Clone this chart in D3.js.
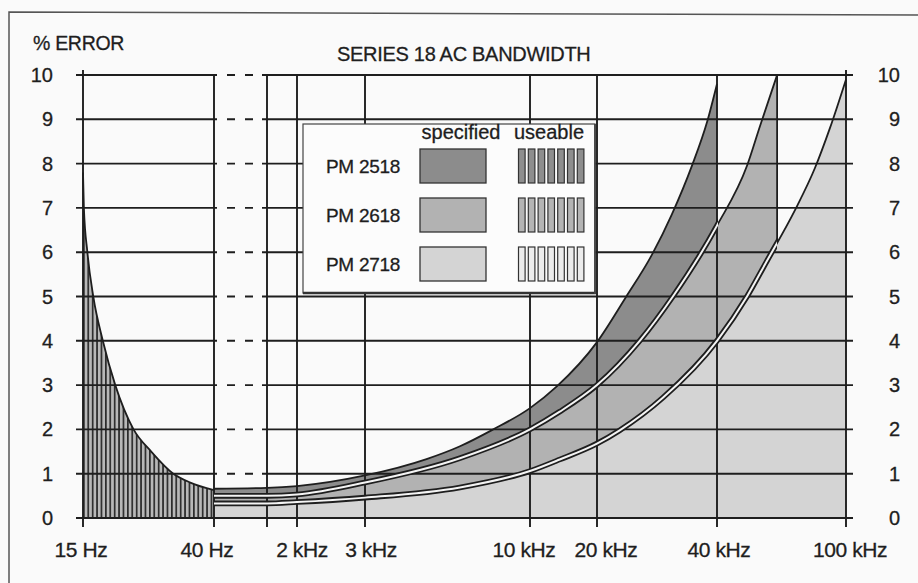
<!DOCTYPE html>
<html><head><meta charset="utf-8">
<script src="https://cdn.jsdelivr.net/npm/d3@7"></script>
<style>
body{margin:0;background:#fafafa;}
svg{display:block;font-family:"Liberation Sans",Arial,Helvetica,sans-serif;}
</style>
</head><body>
<svg id="c" width="918" height="583"></svg>
<script>
// ---------- data ----------
const errorTicks = [0,1,2,3,4,5,6,7,8,9,10];
const freqTicks = [15,40,1000,2000,3000,10000,20000,40000,100000];
const freqTickLabels = ["15 Hz","40 Hz","","2 kHz","3 kHz","10 kHz","20 kHz","40 kHz","100 kHz"];

const lowFreqHz  = [15,15.1,15.5,16.2,17.4,19.1,21.9,25.0,29.5,33.5,40];
const lowFreqErr = [7.8,7.0,6.0,5.0,4.0,3.0,2.0,1.5,1.0,0.8,0.63];

const pm2518Hz  = [40,1000,2000,3000,4700,6000,7600,10000,13200,20000,23500,27500,30800,34600,37800,40000];
const pm2518Err = [0.66,0.68,0.72,0.96,1.33,1.62,1.99,2.48,2.97,3.97,4.95,5.95,6.85,7.95,8.95,9.8];

const pm2618Hz  = [40,1000,2000,3000,6000,10000,13600,20000,25600,31000,40000,49500,54300,61300];
const pm2618Err = [0.5,0.5,0.53,0.8,1.35,2.0,2.4,3.0,4.0,5.0,6.6,7.95,8.85,10];

const pm2718Hz  = [40,1000,2000,3000,6000,10000,13600,20000,22800,29300,40000,49500,57000,69600,80200,89200,100000];
const pm2718Err = [0.33,0.33,0.36,0.46,0.69,1.06,1.32,1.68,1.98,2.72,4.0,5.0,5.8,6.95,7.9,8.8,9.9];

const models = ["PM 2518","PM 2618","PM 2718"];
const legendHeaders = ["specified","useable"];
const chartTitle = "SERIES 18 AC BANDWIDTH";
const yAxisTitle = "% ERROR";

// ---------- layout ----------
const xPos = [83,214,267,297,365,530,597,717,846];
const labelDx = [-2,-7,0,5,6,-6,9,2,4];
const modelFill = ["#8c8c8c","#b2b2b2","#d4d4d4"];
const useableFill = ["#8e8e8e","#b4b4b4","#ececec"];
const ink = "#1e1e1e";

const svg = d3.select("#c");
const xLin = d3.scaleLinear().domain(freqTicks.map(Math.log10)).range(xPos);
const x = f => xLin(Math.log10(f));
const y = d3.scaleLinear().domain([0,10]).range([518,75]);
const zip = (a,b) => a.map((v,i)=>[v,b[i]]);

const lowData = zip(lowFreqHz, lowFreqErr);
const seriesData = [zip(pm2518Hz,pm2518Err), zip(pm2618Hz,pm2618Err), zip(pm2718Hz,pm2718Err)];

const line = d3.line().x(d=>x(d[0])).y(d=>y(d[1])).curve(d3.curveMonotoneX);
const area = d3.area().x(d=>x(d[0])).y0(y(0)).y1(d=>y(d[1])).curve(d3.curveMonotoneX);

const defs = svg.append("defs");
const pat = defs.append("pattern").attr("id","stripes").attr("patternUnits","userSpaceOnUse")
  .attr("x", x(15)).attr("y",0).attr("width",4.4).attr("height",10);
pat.append("rect").attr("width",4.4).attr("height",10).attr("fill","#b8b8b8");
pat.append("rect").attr("width",1.7).attr("height",10).attr("fill","#2c2c2c");

// frame
svg.append("path").attr("d",`M9,583 L9,12 L918,15`).attr("fill","none").attr("stroke","#555").attr("stroke-width",1.5);

// ---------- fills ----------
svg.append("path").attr("d", area(lowData)).attr("fill","url(#stripes)");
const endB = seriesData[1][seriesData[1].length-1];
svg.append("path").attr("d", area(seriesData[0])).attr("fill", modelFill[0]);
svg.append("path").attr("d", area(seriesData[1])).attr("fill", modelFill[1]);
svg.append("line").attr("x1",x(endB[0])).attr("x2",x(endB[0])).attr("y1",y(endB[1])).attr("y2",y(0))
  .attr("stroke",ink).attr("stroke-width",1.8);
svg.append("path").attr("d", area(seriesData[2])).attr("fill", modelFill[2]);

// ---------- grid ----------
const g = svg.append("g").attr("stroke",ink).attr("stroke-width",1.9);
const gapL = x(40)+13, gapR = x(1000)-14;
errorTicks.forEach(v=>{
  if (v===0) {
    g.append("line").attr("x1",76).attr("x2",853).attr("y1",y(v)).attr("y2",y(v));
  } else {
    g.append("line").attr("x1",76).attr("x2",x(40)+3).attr("y1",y(v)).attr("y2",y(v));
    g.append("line").attr("x1",gapL).attr("x2",gapR).attr("y1",y(v)).attr("y2",y(v))
      .attr("stroke-dasharray","8,10");
    g.append("line").attr("x1",x(1000)-5).attr("x2",853).attr("y1",y(v)).attr("y2",y(v));
  }
});
freqTicks.forEach((f,i)=>{
  const top = (i===0 || i===freqTicks.length-1) ? y(10)-5 : y(10);
  g.append("line").attr("x1",x(f)).attr("x2",x(f)).attr("y1",top).attr("y2",y(0)+9);
});

// ---------- curves ----------
svg.append("path").attr("d", line(lowData)).attr("fill","none").attr("stroke",ink).attr("stroke-width",1.8);
svg.append("path").attr("d", line(seriesData[0])).attr("fill","none").attr("stroke",ink).attr("stroke-width",1.8);

function clipTo(id, xr){
  defs.append("clipPath").attr("id",id).append("rect")
    .attr("x",0).attr("y",0).attr("width",xr).attr("height",583);
}
clipTo("clipB", x(40000)+1);
clipTo("clipC", x(endB[0]));

[[1,"clipB"],[2,"clipC"]].forEach(([k,clip])=>{
  const d = line(seriesData[k]);
  svg.append("path").attr("d",d).attr("fill","none").attr("stroke",ink).attr("stroke-width",1.8);
  svg.append("path").attr("d",d).attr("fill","none").attr("stroke",ink).attr("stroke-width",5.6)
    .attr("clip-path",`url(#${clip})`);
  svg.append("path").attr("d",d).attr("fill","none").attr("stroke","#f4f4f4").attr("stroke-width",2.0)
    .attr("clip-path",`url(#${clip})`);
});

// ---------- legend ----------
const lg = svg.append("g");
lg.append("rect").attr("x",303).attr("y",124).attr("width",292).attr("height",169)
  .attr("fill","#fcfcfc").attr("stroke","#444").attr("stroke-width",1.2);
lg.append("line").attr("x1",303).attr("x2",596).attr("y1",293).attr("y2",293).attr("stroke","#333").attr("stroke-width",2.6);
lg.append("line").attr("x1",595).attr("x2",595).attr("y1",124).attr("y2",294).attr("stroke","#444").attr("stroke-width",1.8);
const LT = lg.append("g").attr("fill",ink).attr("stroke",ink).attr("stroke-width",0.3);
LT.append("text").attr("x",461).attr("y",139).attr("text-anchor","middle").attr("font-size",20)
  .text(legendHeaders[0]);
LT.append("text").attr("x",549).attr("y",139).attr("text-anchor","middle").attr("font-size",20)
  .text(legendHeaders[1]);
models.forEach((m,i)=>{
  const cy = 166 + i*49;
  LT.append("text").attr("x",326).attr("y",cy+7).attr("font-size",19).attr("letter-spacing",-0.3)
    .text(m);
  lg.append("rect").attr("x",420).attr("y",cy-17).attr("width",66).attr("height",34)
    .attr("fill",modelFill[i]).attr("stroke","#333").attr("stroke-width",1.3);
  for (let k=0;k<7;k++){
    lg.append("rect").attr("x",518.5+k*9.8).attr("y",cy-17).attr("width",6.6).attr("height",34)
      .attr("fill",useableFill[i]).attr("stroke","#333").attr("stroke-width",1.2);
  }
});

// ---------- text ----------
const T = svg.append("g").attr("fill",ink).attr("stroke",ink).attr("stroke-width",0.3);
T.append("text").attr("x",33).attr("y",50).attr("font-size",19.5).attr("letter-spacing",-0.3).text(yAxisTitle);
T.append("text").attr("x",337).attr("y",61).attr("font-size",20).attr("letter-spacing",-0.3).text(chartTitle);
errorTicks.forEach(v=>{
  T.append("text").attr("x",53).attr("y",y(v)+7).attr("font-size",20).attr("text-anchor","end").text(v);
  T.append("text").attr("x",900).attr("y",y(v)+7).attr("font-size",20).attr("text-anchor","end").text(v);
});
freqTicks.forEach((f,i)=>{
  if (!freqTickLabels[i]) return;
  T.append("text").attr("x",x(f)+labelDx[i]).attr("y",557).attr("font-size",21).attr("letter-spacing",-0.4)
    .attr("text-anchor","middle").text(freqTickLabels[i]);
});
</script>
</body></html>
